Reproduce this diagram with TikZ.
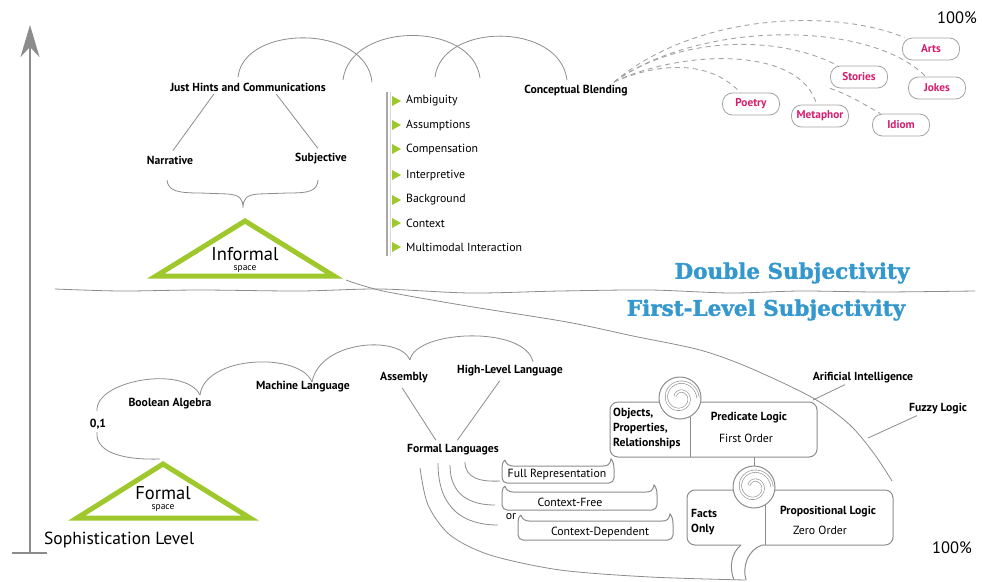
\documentclass[tikz,border=0pt]{standalone}
\usepackage{fontspec}
\setmainfont{PT Sans}
\newfontfamily\slabfont{DejaVu Serif}[BoldFeatures={FakeBold=1.6}]
\usepackage{tikz}
\usetikzlibrary{arrows.meta}

\definecolor{leafgreen}{RGB}{158,200,44}
\definecolor{skyblue}{RGB}{52,152,206}
\definecolor{berry}{RGB}{214,30,110}
\definecolor{pencil}{RGB}{140,140,140}

\tikzset{
  lbl/.style={font=\bfseries\fontsize{11.7}{15}\selectfont, inner sep=1pt},
  txt/.style={font=\fontsize{11.8}{13}\selectfont, inner sep=1pt},
  item/.style={txt, anchor=west},
  tagbox/.style={draw=pencil!80, line width=0.8pt, fill=white, rounded corners=10pt, text=berry,
    font=\bfseries\fontsize{11.3}{12}\selectfont, minimum width=57pt, minimum height=22pt, inner sep=1pt},
  banner/.style={text=skyblue, font=\slabfont\bfseries\fontsize{21.5}{22}\selectfont, inner sep=0pt},
  spacetri/.style={leafgreen, line width=5pt, line join=miter, miter limit=20},
  rope/.style={pencil, line width=0.8pt},
  coil/.style={draw=pencil, line width=0.6pt, double=white, double distance=1.8pt},
  fanline/.style={pencil!80, line width=0.9pt, dash pattern=on 5pt off 4pt},
}

\begin{document}
\begin{tikzpicture}[x=1pt,y=-1pt]
  \useasboundingbox (0,0) rectangle (982,581);

  % sophistication axis
  \draw[pencil, line width=2.2pt, -{Stealth[length=32pt,width=19pt,inset=10pt]}] (30,553) -- (30,25);
  \draw[pencil, line width=2.2pt] (12,553) -- (47,553);
  \node[anchor=west, font=\fontsize{17.5}{19}\selectfont, inner sep=0pt] (level) at (44,540) {Sophistication Level};
  \node[font=\fontsize{16.5}{18}\selectfont, inner sep=0pt] (topmark) at (957,18) {100\%};
  \node[font=\fontsize{16.5}{18}\selectfont, inner sep=0pt] (botmark) at (952,548) {100\%};

  % the two levels
  \draw[rope] plot[smooth] coordinates {(55,289) (120,291) (200,290) (300,291) (380,289) (470,293) (560,291) (650,290) (730,293) (800,291) (880,292) (975,291)};
  \draw[rope] plot[smooth] coordinates {(346,280) (383,291) (467,306) (567,322) (633,336) (700,350) (750,368) (813,398) (850,425) (875,455) (892,481)};
  \node[banner] (dsubj) at (792,273) {Double Subjectivity};
  \node[banner] (fsubj) at (766,310) {First-Level Subjectivity};

  % informal space
  \draw[spacetri] (245,221) -- (334,276) -- (156,276) -- cycle;
  \node[font=\fontsize{18.5}{20}\selectfont, inner sep=0pt] (informal) at (245,254) {Informal};
  \node[font=\fontsize{9.5}{10}\selectfont, inner sep=0pt] (informalsp) at (245,269) {space};

  \draw[rope] (238,77) .. controls (244,24) and (366,24) .. (372,82);
  \draw[rope] (343,80) .. controls (350,21) and (473,21) .. (480,78);
  \draw[rope] (435,77) .. controls (442,22) and (560,22) .. (567,80);

  \node[lbl] (hints) at (248,87) {Just Hints and Communications};
  \node[lbl] (blend) at (576,91) {Conceptual Blending};
  \node[lbl] (narr) at (170,160) {Narrative};
  \node[lbl] (subj) at (321,159) {Subjective};
  \draw[rope, shorten >=5pt, shorten <=2pt] ([xshift=-33pt]hints.south) -- (narr.north);
  \draw[rope, shorten >=5pt, shorten <=2pt] ([xshift=27pt]hints.south) -- (subj.north);
  \draw[rope] (167,180) .. controls (168,191) and (178,193) .. (200,193) -- (228,194)
    .. controls (240,195) and (243,199) .. (243,208) .. controls (243,199) and (246,195) .. (258,194)
    -- (288,193) .. controls (310,193) and (317,191) .. (318,180);

  \draw[pencil!75, line width=1.4pt] (387,92) -- (387,256);
  \draw[pencil!35, line width=1pt] (390.5,92) -- (390.5,256);
  \foreach \y/\t [count=\i] in {101/Ambiguity, 125/Assumptions, 149/Compensation, 175/Interpretive,
      200/Background, 223/Context, 247/Multimodal Interaction}{
    \fill[leafgreen] (392,\y-5) -- (401,\y) -- (392,\y+5) -- cycle;
    \node[item] (cue\i) at (405,\y) {\t};
  }

  \node[tagbox] (arts) at (931,49) {Arts};
  \node[tagbox] (stories) at (859,77) {Stories};
  \node[tagbox] (jokes) at (937,88) {Jokes};
  \node[tagbox] (poetry) at (751,104) {Poetry};
  \node[tagbox] (metaphor) at (820,116) {Metaphor};
  \node[tagbox] (idiom) at (901,125) {Idiom};
  \coordinate (fan) at (614,82);
  \draw[fanline] (fan) .. controls (700,10) and (840,10) .. (arts);
  \draw[fanline] (fan) .. controls (700,20) and (870,20) .. (jokes);
  \draw[fanline] (fan) .. controls (680,35) and (780,35) .. (stories);
  \draw[fanline] (fan) .. controls (680,50) and (800,45) .. (metaphor);
  \draw[fanline] (fan) .. controls (660,62) and (710,60) .. (poetry);
  \draw[fanline] (stories.south west) .. controls (850,95) and (865,105) .. (idiom);

  % formal space
  \draw[spacetri] (163,464) -- (250,518) -- (77,518) -- cycle;
  \node[font=\fontsize{18.5}{20}\selectfont, inner sep=0pt] (formal) at (163,493) {Formal};
  \node[font=\fontsize{9.5}{10}\selectfont, inner sep=0pt] (formalsp) at (163,508) {space};

  \draw[rope] (97,411) .. controls (95,380) and (185,365) .. (200,395);
  \draw[rope] (200,395) .. controls (205,355) and (300,352) .. (312,382);
  \draw[rope] (312,382) .. controls (320,340) and (400,335) .. (410,360);
  \draw[rope] (410,360) .. controls (415,330) and (525,325) .. (533,362);
  \draw[rope] (97,432) .. controls (95,455) and (130,460) .. (160,459);

  \node[lbl] (bits) at (98,424) {0,1};
  \node[lbl] (bool) at (170,404) {Boolean Algebra};
  \node[lbl] (mach) at (303,387) {Machine Language};
  \node[lbl] (asm) at (404,378) {Assembly};
  \node[lbl] (high) at (510,371) {High-Level Language};
  \node[lbl] (flang) at (453,450) {Formal Languages};
  \draw[rope, shorten >=4pt, shorten <=4pt] ([xshift=-4pt]asm.south) -- ([xshift=-15pt]flang.north);
  \draw[rope, shorten >=4pt, shorten <=4pt] ([xshift=-8pt]high.south) -- ([xshift=2pt]flang.north);

  \draw[rope] (465,462) .. controls (465,478) and (480,482) .. (500,481);
  \draw[rope] (450,465) .. controls (450,495) and (470,505) .. (495,505);
  \draw[rope] (438,463) .. controls (438,510) and (465,525) .. (498,525);
  \draw[rope] plot[smooth] coordinates {(420,468) (428,505) (450,535) (490,555) (560,570) (650,577) (745,580)};

  \foreach \xa/\xb/\ya/\yb in {502/614/466/483, 502/657/492/510, 518/673/521/540}{
    \draw[rope, line width=1pt] (\xa+3,\ya-6) .. controls (\xa,\ya-4) and (\xa,\ya) .. (\xa,\ya+3)
      [rounded corners=5pt] -- (\xa,\yb) -- (\xb,\yb) [sharp corners] -- (\xb,\ya+3)
      .. controls (\xb,\ya-1) and (\xb-1,\ya-5) .. (\xb-3,\ya-7)
      .. controls (\xb-4,\ya-1) and (\xb-7,\ya) .. (\xb-11,\ya)
      -- (\xa+11,\ya) .. controls (\xa+7,\ya) and (\xa+4,\ya-2) .. (\xa+3,\ya-6);
  }
  \node[txt] (fullrep) at (557,474) {Full Representation};
  \node[txt] (cfree) at (570,502) {Context-Free};
  \node[txt] (cdep) at (600,532) {Context-Dependent};
  \node[txt] (ordep) at (511,517) {or};

  % logic blocks
  \draw[rope, line width=1pt, rounded corners=8pt] (659.4,402) -- (610,402) -- (610,457) -- (817,457) -- (817,402) -- (700.6,402);
  \draw[rope, line width=1pt] (680,398) circle[radius=21];
  \draw[coil] plot[domain=200:720, samples=70, smooth] ({680+0.025*\x*cos(\x)}, {398+0.025*\x*sin(\x)});
  \draw[rope, line width=1pt] (690,416.5) -- (690,457);
  \node[lbl, anchor=west, align=left] (objs) at (612,428) {Objects,\\Properties,\\Relationships};
  \node[lbl] (pred) at (749,418) {Predicate Logic};
  \node[txt] (predord) at (746,438) {First Order};

  \coordinate (predfoot) at (754,457);
  \coordinate (proptop) at (754,466);
  \draw[rope, line width=1pt] (predfoot) -- (proptop);
  \draw[rope, line width=1pt, rounded corners=8pt] (733.2,490) -- (687,490) -- (687,545) -- (741,545);
  \draw[rope, line width=1pt, rounded corners=8pt] (762,545) -- (893,545) -- (893,490) -- (774.8,490);
  \draw[rope, line width=1pt] (754,487) circle[radius=21];
  \draw[coil] plot[domain=200:720, samples=70, smooth] ({754+0.025*\x*cos(\x)}, {487+0.025*\x*sin(\x)});
  \draw[rope, line width=1pt] (765,505) -- (765,545);
  \draw[rope, line width=1pt] (741,545) .. controls (731,553) and (729,568) .. (734,580);
  \draw[rope, line width=1pt] (762,545) .. controls (748,550) and (742,566) .. (746,580);
  \node[lbl, anchor=west, align=left] (facts) at (690,522) {Facts\\Only};
  \node[lbl] (prop) at (828,512) {Propositional Logic};
  \node[txt] (propord) at (820,530) {Zero Order};

  \node[lbl] (ai) at (863,378) {Arificial Intelligence};
  \node[lbl] (fuzzy) at (938,409) {Fuzzy Logic};
  \coordinate (aifoot) at (813,400);
  \coordinate (fuzzyfoot) at (868,438);
  \draw[rope] ([xshift=-18pt]ai.south) -- (aifoot);
  \draw[rope] ([xshift=-21pt]fuzzy.south) -- (fuzzyfoot);
\end{tikzpicture}
\end{document}
